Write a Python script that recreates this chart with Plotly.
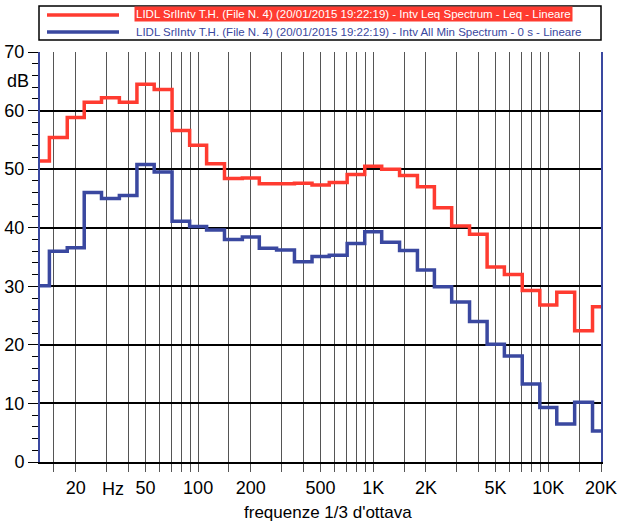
import plotly.graph_objects as go
import math

# 1/3 octave band centre frequencies (Hz)
bands = [12.5, 16, 20, 25, 31.5, 40, 50, 63, 80, 100, 125, 160, 200, 250, 315, 400,
         500, 630, 800, 1000, 1250, 1600, 2000, 2500, 3150, 4000, 5000, 6300, 8000,
         10000, 12500, 16000, 20000]

leq = [51.4, 55.4, 58.8, 61.4, 62.2, 61.4, 64.5, 63.6, 56.6, 54.1, 50.9, 48.4, 48.5,
       47.5, 47.5, 47.6, 47.3, 47.7, 49.1, 50.5, 50.0, 48.9, 47.0, 43.4, 40.3, 38.9,
       33.3, 32.0, 29.3, 26.8, 29.0, 22.4, 26.5]

minspec = [30.1, 36.0, 36.6, 46.0, 45.0, 45.5, 50.8, 49.5, 41.1, 40.2, 39.6, 38.0, 38.4,
           36.5, 36.2, 34.2, 35.1, 35.3, 37.3, 39.3, 37.5, 36.1, 32.8, 29.9, 27.3, 24.0,
           20.1, 18.1, 13.3, 9.3, 6.5, 10.2, 5.3]

grid_freqs = [15, 20, 30, 40, 50, 60, 70, 80, 90, 100, 150, 200, 300, 400, 500, 600, 700,
              800, 900, 1000, 1500, 2000, 3000, 4000, 5000, 6000, 7000, 8000, 9000, 10000,
              15000, 20000]
label_map = {20: "20", 50: "50", 100: "100", 200: "200", 500: "500", 1000: "1K",
             2000: "2K", 5000: "5K", 10000: "10K", 20000: "20K"}
x_ticktext = [label_map.get(f, "") for f in grid_freqs]

y_ticks = [0, 10, 20, 30, 40, 50, 60, 70]

legend_names = [
    "LIDL SrlIntv T.H. (File N. 4) (20/01/2015 19:22:19) - Intv Leq Spectrum - Leq - Lineare",
    "LIDL SrlIntv T.H. (File N. 4) (20/01/2015 19:22:19) - Intv All Min Spectrum - 0 s - Lineare",
]

RED = "#ff3b30"
BLUE = "#3a48a0"
FONT = "Liberation Sans Narrow, Arial Narrow, Liberation Sans, Arial, sans-serif"

W, H = 621, 524
L, R, T, B = 40, 20, 52, 62


def px2paper_x(px):
    return (px - L) / (W - L - R)


def px2paper_y(py):
    return (H - B - py) / (H - B - T)


fig = go.Figure()
fig.add_trace(go.Scatter(x=bands, y=leq, mode="lines", line=dict(color=RED, width=3.5, shape="hvh"),
                         name=legend_names[0], showlegend=False, hoverinfo="skip"))
fig.add_trace(go.Scatter(x=bands, y=minspec, mode="lines", line=dict(color=BLUE, width=3.5, shape="hvh"),
                         name=legend_names[1], showlegend=False, hoverinfo="skip"))

# custom legend box
fig.add_shape(type="rect", xref="paper", yref="paper",
              x0=px2paper_x(39), x1=px2paper_x(601), y0=px2paper_y(40), y1=px2paper_y(6),
              line=dict(color="black", width=1.5), fillcolor="white")
for py, col in [(15, RED), (32, BLUE)]:
    fig.add_shape(type="line", xref="paper", yref="paper",
                  x0=px2paper_x(47), x1=px2paper_x(119), y0=px2paper_y(py), y1=px2paper_y(py),
                  line=dict(color=col, width=3.5))
fig.add_annotation(xref="paper", yref="paper", x=px2paper_x(134), y=px2paper_y(14.5),
                   xanchor="left", yanchor="middle", text=legend_names[0], showarrow=False,
                   font=dict(family=FONT, size=11.5, color="white"), bgcolor=RED, borderpad=1)
fig.add_annotation(xref="paper", yref="paper", x=px2paper_x(134), y=px2paper_y(32),
                   xanchor="left", yanchor="middle", text=legend_names[1], showarrow=False,
                   font=dict(family=FONT, size=11.5, color=BLUE), borderpad=1)

# axis decorations
fig.add_annotation(xref="paper", yref="y", x=px2paper_x(31), y=65, xanchor="right",
                   yanchor="middle", text="dB", showarrow=False,
                   font=dict(family=FONT, size=18, color="black"))
fig.add_annotation(xref="x", yref="paper", x=math.log10(32.5), y=px2paper_y(489), xanchor="center",
                   yanchor="middle", text="Hz", showarrow=False,
                   font=dict(family=FONT, size=18, color="black"))
fig.add_annotation(xref="paper", yref="paper", x=px2paper_x(328), y=px2paper_y(512), xanchor="center",
                   yanchor="middle", text="frequenze 1/3 d'ottava", showarrow=False,
                   font=dict(family=FONT, size=17, color="black"))

fig.update_layout(
    width=W, height=H, autosize=False,
    margin=dict(l=L, r=R, t=T, b=B),
    paper_bgcolor="white", plot_bgcolor="white",
    font=dict(family=FONT, size=18, color="black"),
    showlegend=False,
)
fig.update_xaxes(type="log", range=[math.log10(12.5), math.log10(20000)], automargin=False,
                 tickmode="array", tickvals=grid_freqs, ticktext=x_ticktext,
                 showgrid=True, gridcolor="#555555", gridwidth=1,
                 ticks="outside", ticklen=8, tickcolor="#555555", tickwidth=1,
                 showline=True, linecolor="black", linewidth=2,
                 tickfont=dict(family=FONT, size=18, color="black"), zeroline=False)
fig.update_yaxes(range=[0, 70], tickmode="array", tickvals=y_ticks, automargin=False,
                 showgrid=True, gridcolor="black", gridwidth=2,
                 ticks="outside", ticklen=10, tickcolor="black", tickwidth=1,
                 minor=dict(dtick=2, tick0=0, ticks="outside", ticklen=6, tickcolor="black",
                            showgrid=False),
                 showline=True, linecolor=BLUE, linewidth=2, mirror=True,
                 tickfont=dict(family=FONT, size=18, color="black"), zeroline=False)

post = ("document.body.style.margin='0';document.body.style.overflow='hidden';")
fig.write_html("out.html", config={"displayModeBar": False, "responsive": False},
               post_script=post)
